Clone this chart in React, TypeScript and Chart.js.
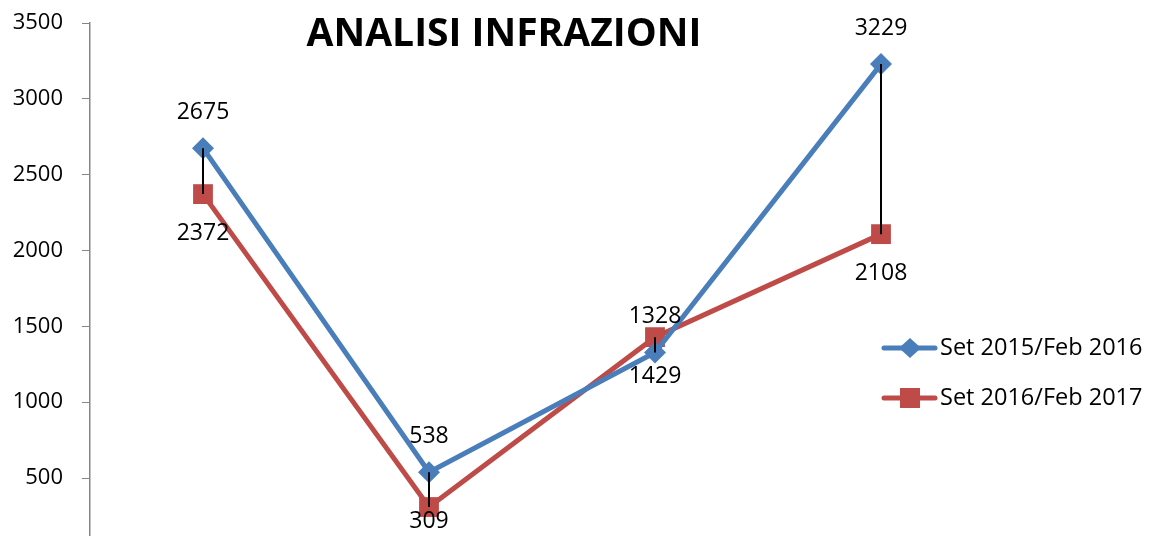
import React, { useEffect, useRef } from "react";
import { Chart, registerables } from "chart.js";

Chart.register(...registerables);

const categories = ["A", "B", "C", "D"];
const seriesNames = ["Set 2015/Feb 2016", "Set 2016/Feb 2017"];
const series1 = [2675, 538, 1328, 3229];
const series2 = [2372, 309, 1429, 2108];
const yTicks = [500, 1000, 1500, 2000, 2500, 3000, 3500];
const titleText = "ANALISI INFRAZIONI";

const BLUE = "#4A7EBB";
const RED = "#BE4B48";
const FONT = "'Open Sans', sans-serif";

const overlay = {
  id: "overlay",
  afterDatasetsDraw(chart: any) {
    const ctx = chart.ctx;
    const m0 = chart.getDatasetMeta(0).data;
    const m1 = chart.getDatasetMeta(1).data;
    ctx.save();
    // high-low lines
    ctx.strokeStyle = "#000";
    ctx.lineWidth = 2;
    for (let i = 0; i < m0.length; i++) {
      ctx.beginPath();
      ctx.moveTo(m0[i].x, m0[i].y);
      ctx.lineTo(m1[i].x, m1[i].y);
      ctx.stroke();
    }
    // data labels
    ctx.fillStyle = "#000";
    ctx.font = `23px ${FONT}`;
    ctx.textAlign = "center";
    ctx.textBaseline = "middle";
    for (let i = 0; i < m0.length; i++) {
      ctx.fillText(String(series1[i]), m0[i].x, m0[i].y - 36);
      const ly = Math.min(m1[i].y + 39, chart.height - 15);
      ctx.fillText(String(series2[i]), m1[i].x, ly);
    }
    // title
    ctx.font = `bold 39px ${FONT}`;
    ctx.fillText(titleText, 504, 35);
    // legend
    const items = [
      { name: seriesNames[0], color: BLUE, style: "rectRot", y: 348 },
      { name: seriesNames[1], color: RED, style: "rect", y: 398 },
    ];
    for (const it of items) {
      ctx.strokeStyle = it.color;
      ctx.lineWidth = 5;
      ctx.lineCap = "round";
      ctx.beginPath();
      ctx.moveTo(884, it.y);
      ctx.lineTo(935, it.y);
      ctx.stroke();
      ctx.fillStyle = it.color;
      if (it.style === "rect") {
        ctx.fillRect(910 - 10, it.y - 10, 20, 20);
      } else {
        ctx.beginPath();
        ctx.moveTo(910, it.y - 10);
        ctx.lineTo(921, it.y);
        ctx.lineTo(910, it.y + 10);
        ctx.lineTo(899, it.y);
        ctx.closePath();
        ctx.fill();
      }
      ctx.fillStyle = "#000";
      ctx.textAlign = "left";
      ctx.font = `23.5px ${FONT}`;
      ctx.fillText(it.name, 940, it.y);
    }
    ctx.restore();
  },
};

export default function App() {
  const ref = useRef<HTMLCanvasElement | null>(null);
  useEffect(() => {
    document.body.style.margin = "0";
    const chart = new Chart(ref.current as HTMLCanvasElement, {
      type: "line",
      data: {
        labels: categories,
        datasets: [
          {
            label: seriesNames[0],
            data: series1,
            borderColor: BLUE,
            backgroundColor: BLUE,
            borderWidth: 5,
            pointStyle: "rectRot",
            pointRadius: 11,
            pointBorderWidth: 0,
            tension: 0,
          },
          {
            label: seriesNames[1],
            data: series2,
            borderColor: RED,
            backgroundColor: RED,
            borderWidth: 5,
            pointStyle: "rect",
            pointRadius: 14,
            pointBorderWidth: 0,
            tension: 0,
          },
        ],
      },
      options: {
        animation: false,
        responsive: false,
        layout: { autoPadding: false, padding: { left: 0, right: 163, top: 23, bottom: 0 } },
        plugins: { legend: { display: false }, tooltip: { enabled: false } },
        scales: {
          x: { display: false, offset: true },
          y: {
            min: 118,
            max: 3500,
            afterBuildTicks: (s: any) => {
              s.ticks = yTicks.map((v) => ({ value: v }));
            },
            afterFit: (s: any) => {
              s.width = 90;
              s.paddingTop = 0;
              s.paddingBottom = 0;
            },
            grid: {
              drawOnChartArea: false,
              drawTicks: true,
              tickLength: 8,
              color: "#868686",
            },
            border: { color: "#868686", width: 1.5 },
            ticks: {
              padding: 19,
              color: "#000",
              font: { family: "Open Sans", size: 22 },
              callback: (v: any) => String(v),
            },
          },
        },
      },
      plugins: [overlay],
    });
    return () => chart.destroy();
  }, []);
  return <canvas ref={ref} width={1157} height={536} style={{ display: "block" }} />;
}
